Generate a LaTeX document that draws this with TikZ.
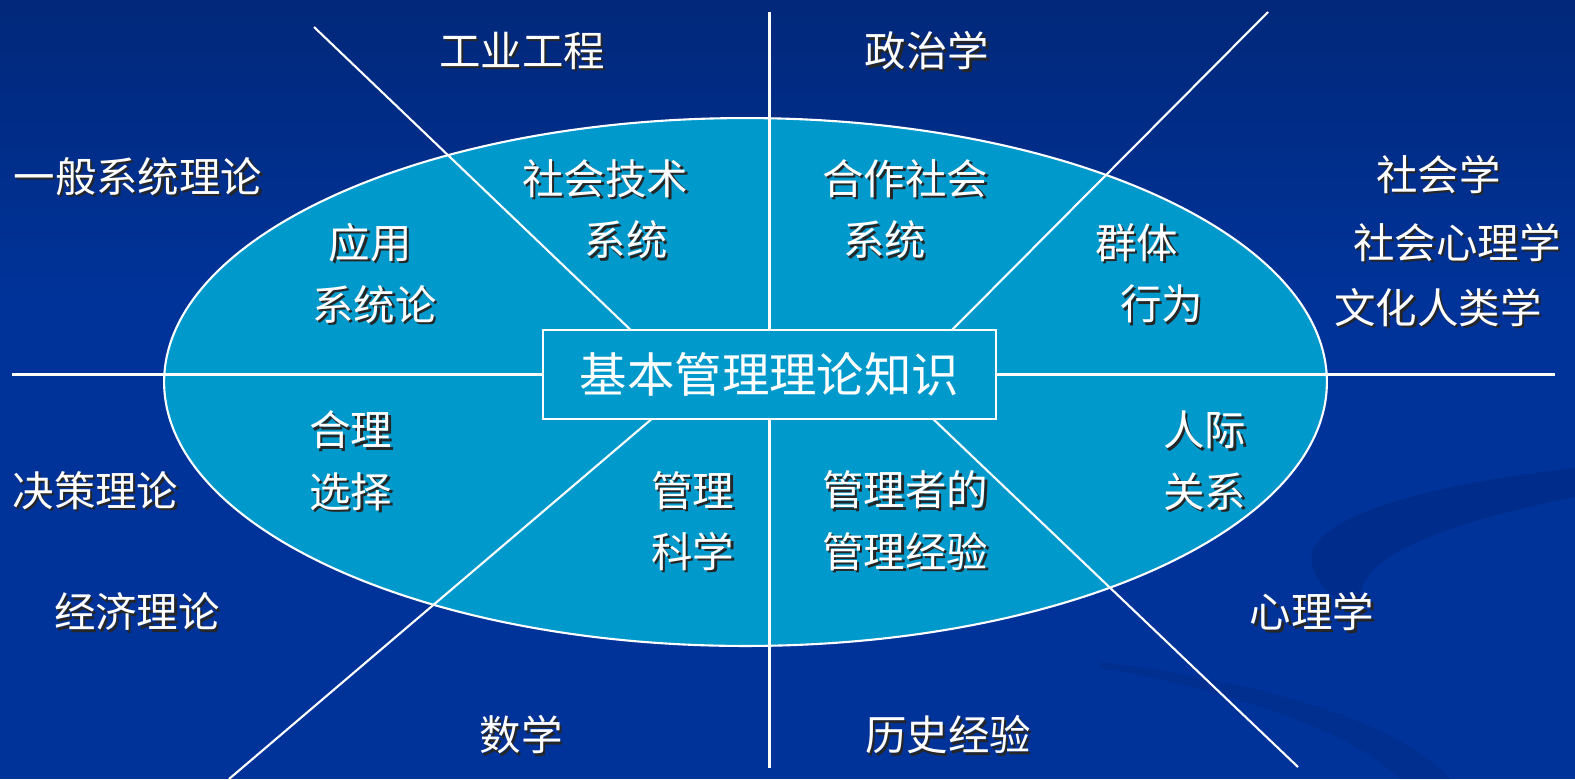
\documentclass[tikz,border=0pt]{standalone}
\usepackage{fontspec}
\setmainfont{Noto Sans CJK SC}
\usetikzlibrary{positioning}
\definecolor{bgtop}{HTML}{01287A}
\definecolor{bgblue}{HTML}{003399}
\definecolor{lakeblue}{HTML}{0099CC}
\definecolor{swoosh}{HTML}{00267E}
\newcommand{\shadowed}[1]{\rlap{\kern1.3pt\raisebox{-1.3pt}{\textcolor{black!85}{#1}}}#1}

\begin{document}
\begin{tikzpicture}[
                    x=0.02cm, y=-0.02cm,
                    discipline/.style={
                        font=\fontsize{23.6}{35}\selectfont,
                        text=white,
                        inner sep=0pt
                    },
                    school/.style={
                        discipline,
                        align=left,
                        anchor=west
                    },
                    core/.style={
                        rectangle,
                        draw=white,
                        line width=1.2pt,
                        fill=lakeblue,
                        minimum width=9.06cm,
                        minimum height=1.78cm,
                        font=\fontsize{27}{30}\selectfont,
                        text=white
                    },
                    ray/.style={draw=white, line width=1.2pt}
                ]
                % background
                \fill[bgblue] (0,0) rectangle (1575,779);
                \shade[top color=bgtop, bottom color=bgblue] (0,0) rectangle (1575,300);
                \fill[swoosh, opacity=0.45] (1575,468) .. controls (1420,485) and (1300,520) .. (1312,565)
                    .. controls (1318,590) and (1340,605) .. (1362,605)
                    .. controls (1350,565) and (1420,528) .. (1575,497) -- cycle;
                \fill[swoosh, opacity=0.3] (1100,662) .. controls (1250,680) and (1400,720) .. (1450,779)
                    -- (1400,779) .. controls (1350,730) and (1230,690) .. (1100,668) -- cycle;
                \useasboundingbox (0,0) rectangle (1575,779);

                \draw[ray, fill=lakeblue] (745.5,382) ellipse [x radius=11.63cm, y radius=5.28cm];

                \coordinate (west end) at (12,374.5);
                \coordinate (east end) at (1555,374.5);
                \coordinate (north end) at (769.5,12);
                \coordinate (south end) at (769.5,768);
                \coordinate (nw end) at (314,27);
                \coordinate (nw foot) at (636,335);
                \coordinate (ne end) at (1268,12);
                \coordinate (ne foot) at (947,335);
                \coordinate (sw end) at (229,779);
                \coordinate (sw foot) at (654,417);
                \coordinate (se end) at (1298,767);
                \coordinate (se foot) at (930,416);

                \draw[ray] (west end) -- (east end);
                \draw[ray] (north end) -- (south end);
                \draw[ray] (nw end) -- (nw foot);
                \draw[ray] (ne end) -- (ne foot);
                \draw[ray] (sw end) -- (sw foot);
                \draw[ray] (se end) -- (se foot);

                \node (base) [core] at (769.5,374.5) {基本管理理论知识};

                % outer disciplines
                \node (gongye) [discipline] at (522,52) {\shadowed{工业工程}};
                \node (zhengzhi) [discipline] at (927,52) {\shadowed{政治学}};
                \node (xitong) [discipline] at (138,178) {\shadowed{一般系统理论}};
                \node (shehui) [school] at (1334,242) {\hspace*{1.01em}\shadowed{社会学}\\[3.5pt]
                    \hspace*{0.46em}\shadowed{社会心理学}\\[2pt]\shadowed{文化人类学}};
                \node (juece) [discipline] at (95.5,492) {\shadowed{决策理论}};
                \node (jingji) [discipline] at (137,613) {\shadowed{经济理论}};
                \node (shuxue) [discipline] at (521,736) {\shadowed{数学}};
                \node (lishi) [discipline] at (948,736) {\shadowed{历史经验}};
                \node (xinli) [discipline] at (1312,613) {\shadowed{心理学}};

                % schools inside the ellipse
                \node (yingyong) [school] at (312,274.5) {\hspace*{0.4em}\shadowed{应用}\\\shadowed{系统论}};
                \node (shehuijishu) [school] at (522,210.5) {\shadowed{社会技术}\\\hspace*{1.5em}\shadowed{系统}};
                \node (hezuo) [school] at (822,210.5) {\shadowed{合作社会}\\\hspace*{0.5em}\shadowed{系统}};
                \node (qunti) [school] at (1095,274.5) {\shadowed{群体}\\\hspace*{0.6em}\shadowed{行为}};
                \node (heli) [school] at (309,462) {\shadowed{合理}\\\shadowed{选择}};
                \node (guanlikexue) [school] at (651,522) {\shadowed{管理}\\\shadowed{科学}};
                \node (jingyan) [school] at (822,522) {\shadowed{管理者的}\\\shadowed{管理经验}};
                \node (renji) [school] at (1163,462) {\shadowed{人际}\\\shadowed{关系}};
            \end{tikzpicture}
\end{document}
